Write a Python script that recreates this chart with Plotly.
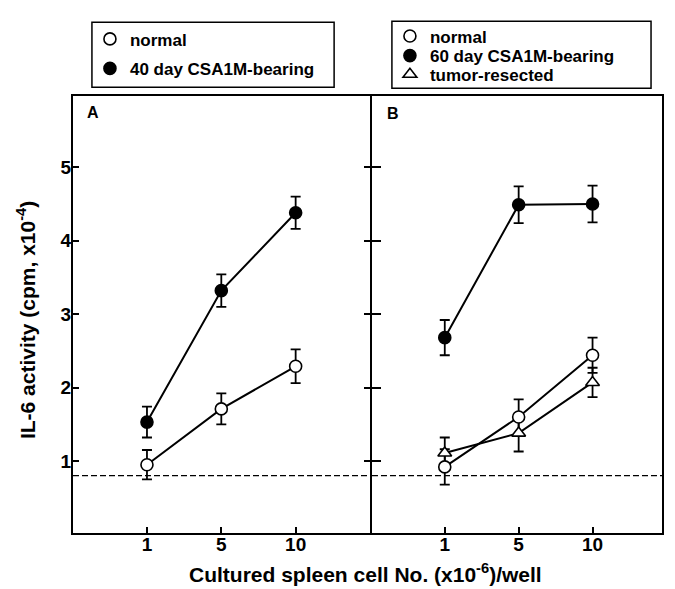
import plotly.graph_objects as go

# ---------------- data ----------------
cell_numbers = ["1", "5", "10"]

a_normal = [0.95, 1.71, 2.29]
a_normal_err = [0.20, 0.21, 0.23]
a_40day = [1.53, 3.32, 4.38]
a_40day_err = [0.21, 0.22, 0.22]

b_normal = [0.92, 1.60, 2.44]
b_normal_err = [0.24, 0.24, 0.24]
b_60day = [2.68, 4.49, 4.50]
b_60day_err = [0.24, 0.25, 0.25]
b_resected = [1.11, 1.38, 2.07]
b_resected_err = [0.21, 0.25, 0.20]

baseline_level = 0.8
y_ticks = [1, 2, 3, 4, 5]

# ---------------- geometry (page pixels) ----------------
OFF = 8                      # default body margin of the html page
PAGE_W, PAGE_H = 675, 589
PLOT_L, PLOT_R, PLOT_T, PLOT_B = 73, 664, 88, 533
PW = PLOT_R - PLOT_L
PH = PLOT_B - PLOT_T
FIG_W, FIG_H = PAGE_W - OFF, PAGE_H - OFF
M_L, M_T = PLOT_L - OFF, PLOT_T - OFF
M_R, M_B = FIG_W - M_L - PW, FIG_H - M_T - PH


def px_x(px):
    return (px - PLOT_L) / PW


def px_y(py):
    return (PLOT_B - py) / PH


split = px_x(372)
one_px = 1 / PW

FONT = "Liberation Sans, Arial, Helvetica, sans-serif"

series = [
    (a_normal, a_normal_err, "x", "y", "circle", "white", "normal", "legend"),
    (a_40day, a_40day_err, "x", "y", "circle", "black", "40 day CSA1M-bearing", "legend2"),
    (b_resected, b_resected_err, "x2", "y2", "triangle-up", "white", "tumor-resected", "legend5"),
    (b_normal, b_normal_err, "x2", "y2", "circle", "white", "normal", "legend3"),
    (b_60day, b_60day_err, "x2", "y2", "circle", "black", "60 day CSA1M-bearing", "legend4"),
]

fig = go.Figure()

# lines + error bars first
for y, err, xa, ya, symbol, fill, name, legend in series:
    fig.add_trace(go.Scatter(
        x=cell_numbers, y=y, xaxis=xa, yaxis=ya, mode="lines",
        line=dict(color="black", width=2),
        error_y=dict(type="data", array=err, visible=True, color="black",
                     thickness=1.8, width=5),
        showlegend=False, hoverinfo="skip"))

# markers on top (also provide legend entries)
for y, err, xa, ya, symbol, fill, name, legend in series:
    fig.add_trace(go.Scatter(
        x=cell_numbers, y=y, xaxis=xa, yaxis=ya, mode="markers", name=name,
        marker=dict(symbol=symbol, size=12, color=fill,
                    line=dict(color="black", width=1.6)),
        legend=legend, showlegend=True, hoverinfo="skip"))

tick_font = dict(family=FONT, size=19, color="black", weight="bold")
axis_common = dict(showline=True, linecolor="black", linewidth=2,
                   showgrid=False, zeroline=False,
                   tickcolor="black", tickwidth=2, tickfont=tick_font)

legend_font = dict(family=FONT, size=17, color="black", weight="bold")


def legend_at(marker_x, center_y):
    return dict(x=px_x(marker_x - 20), y=px_y(center_y - 18),
                xanchor="left", yanchor="top", bgcolor="rgba(0,0,0,0)",
                borderwidth=0, font=legend_font)


fig.update_layout(
    width=FIG_W, height=FIG_H,
    margin=dict(l=M_L, r=M_R, t=M_T, b=M_B, pad=0),
    paper_bgcolor="white", plot_bgcolor="white",
    font=dict(family=FONT, color="black"),
    xaxis=dict(domain=[0, split - one_px], type="category", categoryorder="array",
               categoryarray=cell_numbers, range=[-0.995, 3.0],
               anchor="y", mirror=True, ticks="inside", ticklen=6,
               ticklabelstandoff=-7, **axis_common),
    xaxis2=dict(domain=[split + one_px, 1], type="category", categoryorder="array",
                categoryarray=cell_numbers, range=[-0.985, 2.94],
                anchor="y2", mirror=True, ticks="inside", ticklen=6,
                ticklabelstandoff=-7, **axis_common),
    yaxis=dict(domain=[0, 1], range=[0.02, 5.97], tickvals=y_ticks,
               anchor="x", mirror="ticks", ticks="inside", ticklen=6,
               ticklabelstandoff=-4, **axis_common),
    yaxis2=dict(domain=[0, 1], range=[0.02, 5.97], tickvals=y_ticks, matches="y",
                anchor="x2", mirror=True, ticks="inside", ticklen=9,
                showticklabels=False, **axis_common),
    legend=legend_at(110, 30),
    legend2=legend_at(110, 60),
    legend3=legend_at(411, 27),
    legend4=legend_at(411, 47),
    legend5=legend_at(411, 66),
)

# legend frames
fig.add_shape(type="rect", xref="paper", yref="paper",
              x0=px_x(92), x1=px_x(335), y0=px_y(79), y1=px_y(13),
              line=dict(color="black", width=1.5))
fig.add_shape(type="rect", xref="paper", yref="paper",
              x0=px_x(393), x1=px_x(653), y0=px_y(80), y1=px_y(12),
              line=dict(color="black", width=1.5))

# baseline dashed lines
for xr, yr in (("x domain", "y"), ("x2 domain", "y2")):
    fig.add_shape(type="line", xref=xr, yref=yr, x0=0, x1=1,
                  y0=baseline_level, y1=baseline_level,
                  line=dict(color="black", width=1.3, dash="6px,3px"))

# panel labels
label_font = dict(family=FONT, size=16, color="black", weight="bold")
fig.add_annotation(text="A", xref="paper", yref="paper", x=px_x(85), y=px_y(105),
                   xanchor="left", yanchor="middle", showarrow=False, font=label_font)
fig.add_annotation(text="B", xref="paper", yref="paper", x=px_x(386), y=px_y(106),
                   xanchor="left", yanchor="middle", showarrow=False, font=label_font)

# axis titles
title_font = dict(family=FONT, size=21, color="black", weight="bold")
fig.add_annotation(text="IL-6 activity (cpm, x10<sup>-4</sup>)", xref="paper", yref="paper",
                   x=px_x(26), y=px_y(316), xanchor="center", yanchor="middle",
                   textangle=-90, showarrow=False, font=title_font)
fig.add_annotation(text="Cultured spleen cell No. (x10<sup>-6</sup>)/well", xref="paper", yref="paper",
                   x=px_x(366), y=px_y(574), xanchor="center", yanchor="middle",
                   showarrow=False, font=title_font)

fig.write_html("out.html")
